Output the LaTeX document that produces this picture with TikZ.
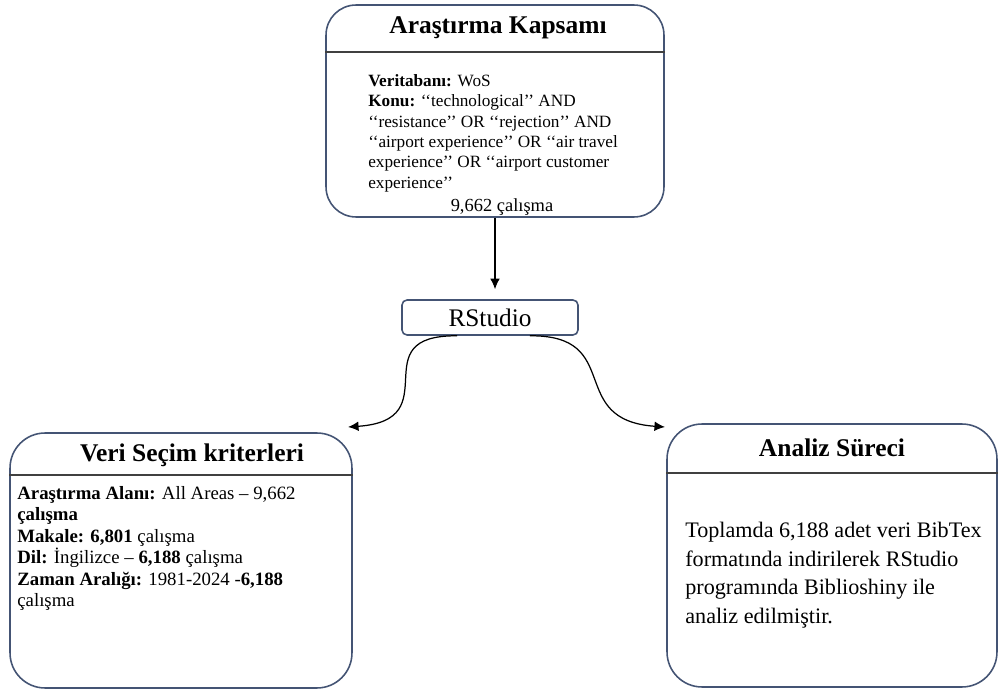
\documentclass[tikz,border=0pt]{standalone}
\usepackage{fontspec}
\setmainfont{Liberation Serif}
\usetikzlibrary{arrows.meta}
\definecolor{boxline}{RGB}{68,84,116}

\tikzset{
  kutu/.style={draw=boxline, line width=0.9pt, rounded corners=0.7cm, inner sep=0},
  baslik/.style={font=\fontsize{14.5}{17}\selectfont\bfseries, inner sep=0},
  metin/.style={align=left, inner sep=0, anchor=north west},
  ok/.style={-{Latex[length=6pt,width=5.5pt]}, line width=0.7pt},
}

\begin{document}
\begin{tikzpicture}[x=0.02cm,y=-0.02cm]
\useasboundingbox (0,0) rectangle (998,689);
\node[kutu, rounded corners=0.6cm, minimum width=6.76cm, minimum height=4.24cm] (kapsam) at (495,111) {};
\node[kutu, minimum width=6.84cm, minimum height=5.1cm] (veri) at (181,560.5) {};
\node[kutu, minimum width=6.6cm, minimum height=5.26cm] (analiz) at (832,555.5) {};
\node[kutu, rounded corners=0.1cm, minimum width=3.52cm, minimum height=0.7cm, font=\fontsize{14.4}{17}\selectfont] (studio) at (490,317.5) {RStudio};
\foreach \b/\y in {kapsam/52, veri/475, analiz/473} % header lines
\draw[black!75, line width=0.7pt] (\b.west |- 0,\y) -- (\b.east |- 0,\y);

\node[baslik] (kbaslik) at (498,28) {Araştırma Kapsamı};
\node[metin, font=\fontsize{9.8}{11.6}\selectfont] (kmetin) at (368,74) {\textbf{Veritabanı:} WoS\\
  \textbf{Konu:} ‘‘technological’’ AND\\
  ‘‘resistance’’ OR ‘‘rejection’’ AND\\
  ‘‘airport experience’’ OR ‘‘air travel\\
  experience’’ OR ‘‘airport customer\\
  experience’’};
\node[font=\fontsize{10.5}{12}\selectfont, inner sep=0] (ksayi) at (502,207) {9,662 çalışma};

\node[baslik] (vbaslik) at (192,455) {Veri Seçim kriterleri};
\node[metin, font=\fontsize{10.7}{12.2}\selectfont] (vmetin) at (17,486) {\textbf{Araştırma Alanı:} All Areas – 9,662\\
  \textbf{çalışma}\\
  \textbf{Makale: 6,801} çalışma\\
  \textbf{Dil:} İngilizce – \textbf{6,188} çalışma\\
  \textbf{Zaman Aralığı:} 1981-2024 -\textbf{6,188}\\
  çalışma};

\node[baslik] (abaslik) at (832,448) {Analiz Süreci};
\node[metin, font=\fontsize{12.6}{16.2}\selectfont] (ametin) at (685,522) {Toplamda 6,188 adet veri BibTex\\
  formatında indirilerek RStudio\\
  programında Biblioshiny ile\\
  analiz edilmiştir.};

\coordinate (sol) at (348,427);
\coordinate (sag) at (665,427);
\draw[ok, shorten >=0.2cm] (kapsam.south) -- (kapsam.south |- studio.north);
\draw[ok] ([xshift=-0.66cm]studio.south) .. controls (360,335) and (450,420) .. (sol);
\draw[ok] ([xshift=0.8cm]studio.south) .. controls (625,335) and (565,420) .. (sag);
\end{tikzpicture}
\end{document}
